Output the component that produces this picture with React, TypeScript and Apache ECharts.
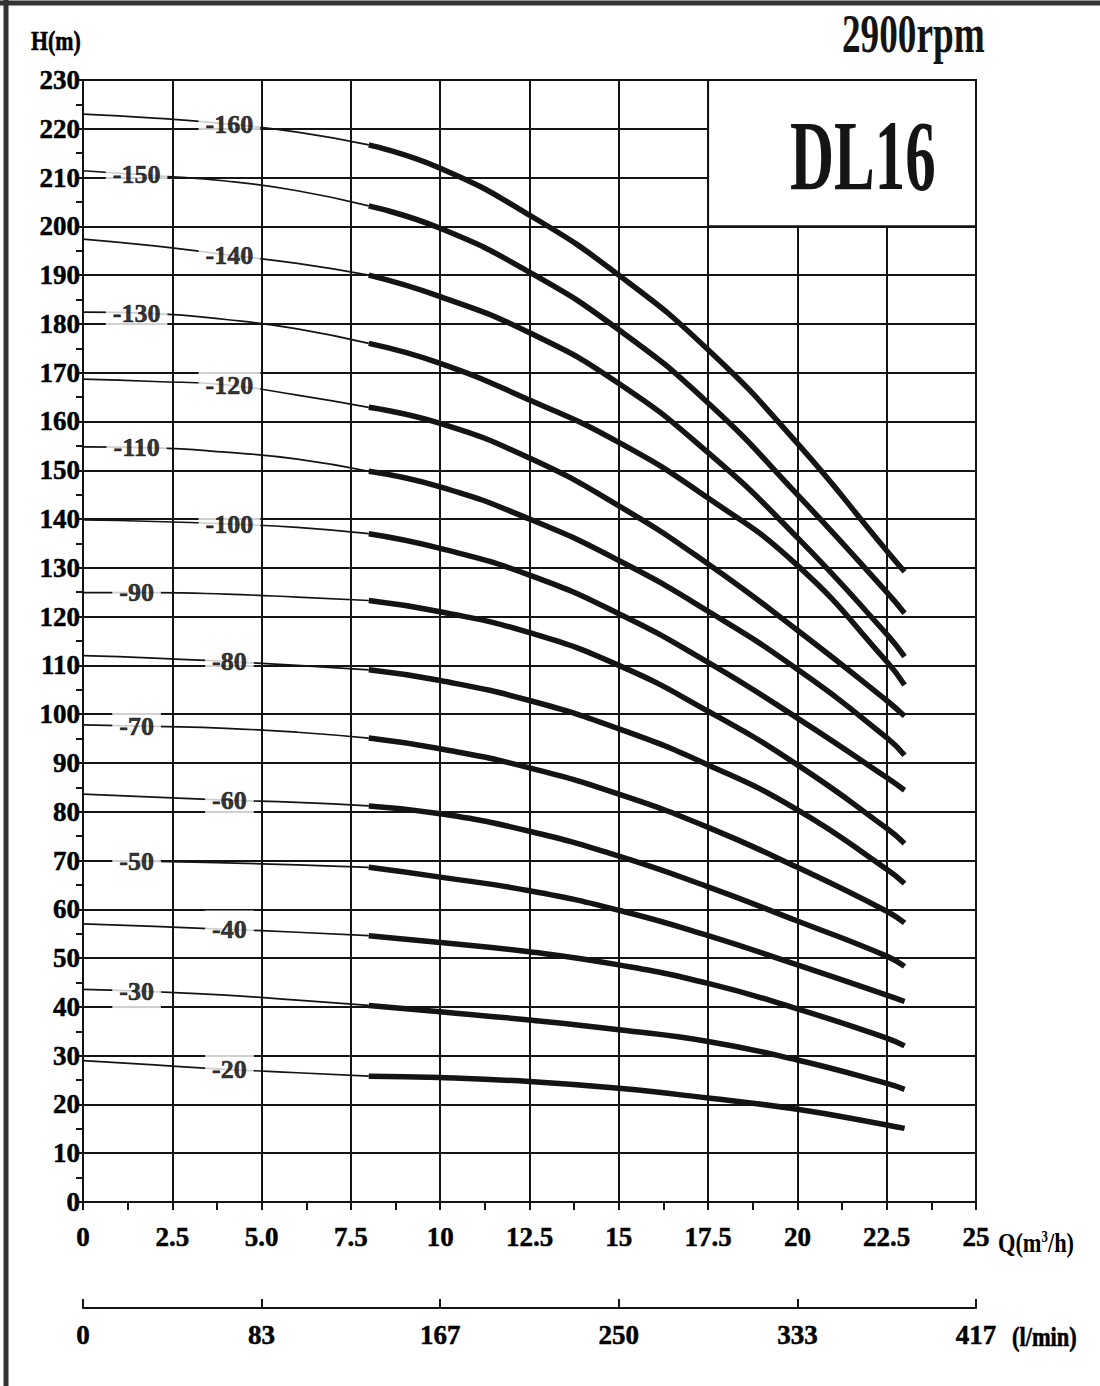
import React, { useEffect, useRef } from 'react';
import * as echarts from 'echarts';

const FONT = '"Liberation Serif", "Times New Roman", serif';
const INK = '#141414';

const stageLabels = ['-160', '-150', '-140', '-130', '-120', '-110', '-100', '-90', '-80', '-70', '-60', '-50', '-40', '-30', '-20'];
const labelQ = [4.1, 1.5, 4.1, 1.5, 4.1, 1.5, 4.1, 1.5, 4.1, 1.5, 4.1, 1.5, 4.1, 1.5, 4.1];

const thinQ = [0, 2, 4, 6, 8];
const thinH = [
  [223.0, 222.2, 221.0, 219.3, 216.7],
  [211.4, 210.4, 209.3, 207.3, 204.2],
  [197.4, 196.0, 194.2, 192.4, 190.0],
  [182.4, 182.1, 180.9, 179.0, 176.0],
  [168.7, 168.2, 167.5, 165.4, 162.9],
  [154.8, 154.6, 153.7, 152.3, 149.8],
  [139.8, 139.5, 139.0, 138.3, 137.0],
  [124.9, 124.9, 124.6, 124.0, 123.3],
  [112.0, 111.5, 110.8, 110.0, 109.1],
  [97.8, 97.5, 97.1, 96.3, 95.1],
  [83.6, 83.0, 82.4, 81.9, 81.2],
  [69.9, 69.8, 69.5, 69.1, 68.6],
  [57.0, 56.5, 55.9, 55.3, 54.6],
  [43.6, 43.1, 42.4, 41.4, 40.3],
  [29.0, 28.1, 27.2, 26.5, 25.8],
];

const thickQ = [8, 10, 12.5, 15, 17.5, 20, 22.5, 23];
const thickH = [
  [216.7, 211.9, 202.3, 190.0, 174.7, 155.5, 133.5, 129.2],
  [204.2, 199.6, 190.6, 178.8, 163.8, 145.0, 125.0, 120.7],
  [190.0, 185.6, 178.2, 167.8, 153.6, 136.2, 116.4, 111.8],
  [176.0, 171.9, 164.4, 155.7, 144.3, 130.5, 110.8, 106.0],
  [162.9, 159.6, 152.5, 142.7, 130.8, 117.2, 102.8, 99.6],
  [149.8, 146.6, 140.0, 131.5, 121.1, 109.2, 95.2, 91.6],
  [137.0, 134.0, 128.5, 120.6, 110.6, 99.2, 87.0, 84.4],
  [123.3, 121.0, 116.7, 110.0, 100.6, 89.6, 76.6, 73.5],
  [109.1, 106.9, 102.8, 97.0, 89.6, 80.4, 68.2, 65.3],
  [95.1, 92.9, 89.0, 83.6, 76.8, 68.6, 59.6, 57.2],
  [81.2, 79.6, 76.0, 70.9, 64.6, 57.6, 50.4, 48.3],
  [68.6, 66.6, 63.8, 59.8, 54.6, 48.6, 42.4, 41.1],
  [54.6, 53.2, 51.3, 48.6, 44.8, 39.6, 33.6, 32.0],
  [40.3, 39.0, 37.3, 35.3, 32.9, 29.1, 24.3, 23.1],
  [25.8, 25.5, 24.7, 23.3, 21.3, 19.0, 15.8, 15.1],
];

const qTickLabels = ['0', '2.5', '5.0', '7.5', '10', '12.5', '15', '17.5', '20', '22.5', '25'];
const lminTickLabels = ['0', '83', '167', '250', '333', '417'];

function interp(xs: number[], ys: number[], x: number): number {
  for (let i = 0; i < xs.length - 1; i++) {
    if (x >= xs[i] && x <= xs[i + 1]) {
      const t = (x - xs[i]) / (xs[i + 1] - xs[i]);
      return ys[i] + t * (ys[i + 1] - ys[i]);
    }
  }
  return ys[ys.length - 1];
}

export default function App() {
  const ref = useRef<HTMLDivElement>(null);

  useEffect(() => {
    document.body.style.margin = '0';
    const chart = echarts.init(ref.current!, undefined, { renderer: 'svg' });

    const series: any[] = [];
    stageLabels.forEach((_, i) => {
      series.push({
        type: 'line',
        xAxisIndex: 0,
        yAxisIndex: 0,
        data: thinQ.map((q, j) => [q, thinH[i][j]]),
        smooth: 0.5,
        symbol: 'none',
        lineStyle: { color: INK, width: 1.7 },
        z: 3,
        silent: true,
      });
      series.push({
        type: 'line',
        xAxisIndex: 0,
        yAxisIndex: 0,
        data: thickQ.map((q, j) => [q, thickH[i][j]]),
        smooth: 0.5,
        symbol: 'none',
        lineStyle: { color: INK, width: 5.5, cap: 'butt' },
        z: 4,
        silent: true,
      });
    });
    series.push({
      type: 'scatter',
      xAxisIndex: 0,
      yAxisIndex: 0,
      symbolSize: 1,
      itemStyle: { color: 'rgba(0,0,0,0)' },
      data: stageLabels.map((s, i) => [labelQ[i], interp(thinQ, thinH[i], labelQ[i]), s]),
      label: {
        show: true,
        position: 'inside',
        formatter: (p: any) => p.data[2],
        backgroundColor: '#ffffff',
        padding: [7, 7, 5, 7],
        fontFamily: FONT,
        fontWeight: 'bold',
        fontSize: 26,
        color: '#000000',
        textBorderColor: '#000000',
        textBorderWidth: 0.6,
      },
      z: 10,
      silent: true,
    });

    const axisLabelStyle = {
      fontFamily: FONT, fontWeight: 'bold', fontSize: 27, color: '#000000',
      textBorderColor: '#000000', textBorderWidth: 0.5,
    };

    chart.setOption({
      animation: false,
      backgroundColor: '#ffffff',
      grid: [
        { left: 83, right: 124, top: 80, bottom: 184, containLabel: false },
        { left: 83, right: 124, top: 1299, height: 9, containLabel: false },
      ],
      xAxis: [
        {
          type: 'value',
          gridIndex: 0,
          min: 0,
          max: 25,
          interval: 2.5,
          axisLine: { show: true, onZero: false, lineStyle: { color: INK, width: 2 } },
          axisTick: { show: true, length: 8, lineStyle: { color: INK, width: 2 } },
          minorTick: { show: true, splitNumber: 2, length: 8, lineStyle: { color: INK, width: 2 } },
          splitLine: { show: true, lineStyle: { color: INK, width: 2 } },
          axisLabel: { ...axisLabelStyle, margin: 21, formatter: (v: number) => qTickLabels[Math.round(v / 2.5)] },
        },
        {
          type: 'value',
          gridIndex: 1,
          min: 0,
          max: 25,
          interval: 5,
          position: 'bottom',
          axisLine: { show: true, onZero: false, lineStyle: { color: INK, width: 2 } },
          axisTick: { show: true, inside: true, length: 9, lineStyle: { color: INK, width: 2 } },
          splitLine: { show: false },
          axisLabel: { ...axisLabelStyle, margin: 13, formatter: (v: number) => lminTickLabels[Math.round(v / 5)] },
        },
      ],
      yAxis: [
        {
          type: 'value',
          gridIndex: 0,
          min: 0,
          max: 230,
          interval: 10,
          axisLine: { show: true, onZero: false, lineStyle: { color: INK, width: 2 } },
          axisTick: { show: true, length: 6, lineStyle: { color: INK, width: 2 } },
          minorTick: { show: true, splitNumber: 2, length: 7, lineStyle: { color: INK, width: 2 } },
          splitLine: { show: true, lineStyle: { color: INK, width: 2 } },
          axisLabel: { ...axisLabelStyle, margin: 3 },
        },
        { type: 'value', gridIndex: 1, min: 0, max: 1, show: false },
      ],
      series,
    });

    const p1 = chart.convertToPixel({ gridIndex: 0 }, [17.5, 230]) as number[];
    const p2 = chart.convertToPixel({ gridIndex: 0 }, [25, 200]) as number[];

    const bold = { stroke: '#000', lineWidth: 0.6 };

    chart.setOption({
      graphic: [
        { type: 'line', z: 50, shape: { x1: 0, y1: 3, x2: 1100, y2: 3 }, style: { stroke: '#333', lineWidth: 5 } },
        { type: 'line', z: 50, shape: { x1: 6, y1: 0, x2: 6, y2: 1386 }, style: { stroke: '#333', lineWidth: 5 } },
        {
          type: 'rect', z: 60,
          shape: { x: p1[0], y: p1[1], width: p2[0] - p1[0], height: p2[1] - p1[1] },
          style: { fill: '#ffffff', stroke: INK, lineWidth: 2 },
        },
        {
          type: 'text', z: 61, x: 790, y: 155, scaleX: 0.61,
          style: { text: 'DL16', font: `bold 100px ${FONT}`, fill: INK, textAlign: 'left', textVerticalAlign: 'middle' },
        },
        {
          type: 'text', z: 61, x: 842, y: 34, scaleX: 0.69,
          style: { text: '2900rpm', font: `bold 54px ${FONT}`, fill: INK, textAlign: 'left', textVerticalAlign: 'middle' },
        },
        {
          type: 'text', z: 61, x: 31, y: 41, scaleX: 0.78,
          style: { text: 'H(m)', font: `bold 28px ${FONT}`, fill: '#000', textAlign: 'left', textVerticalAlign: 'middle', ...bold },
        },
        {
          type: 'text', z: 61, x: 998, y: 1242, scaleX: 0.8,
          style: {
            text: '{a|Q(m}{s|3}{a|/h)}',
            textAlign: 'left',
            textVerticalAlign: 'middle',
            rich: {
              a: { font: `bold 28px ${FONT}`, fill: '#000' },
              s: { font: `bold 16px ${FONT}`, fill: '#000', verticalAlign: 'top', padding: [0, 0, 12, 0] },
            },
          },
        },
        {
          type: 'text', z: 61, x: 1012, y: 1336, scaleX: 0.8,
          style: { text: '(l/min)', font: `bold 28px ${FONT}`, fill: '#000', textAlign: 'left', textVerticalAlign: 'middle', ...bold },
        },
      ],
    });

    return () => chart.dispose();
  }, []);

  return <div ref={ref} style={{ width: 1100, height: 1386 }} />;
}
